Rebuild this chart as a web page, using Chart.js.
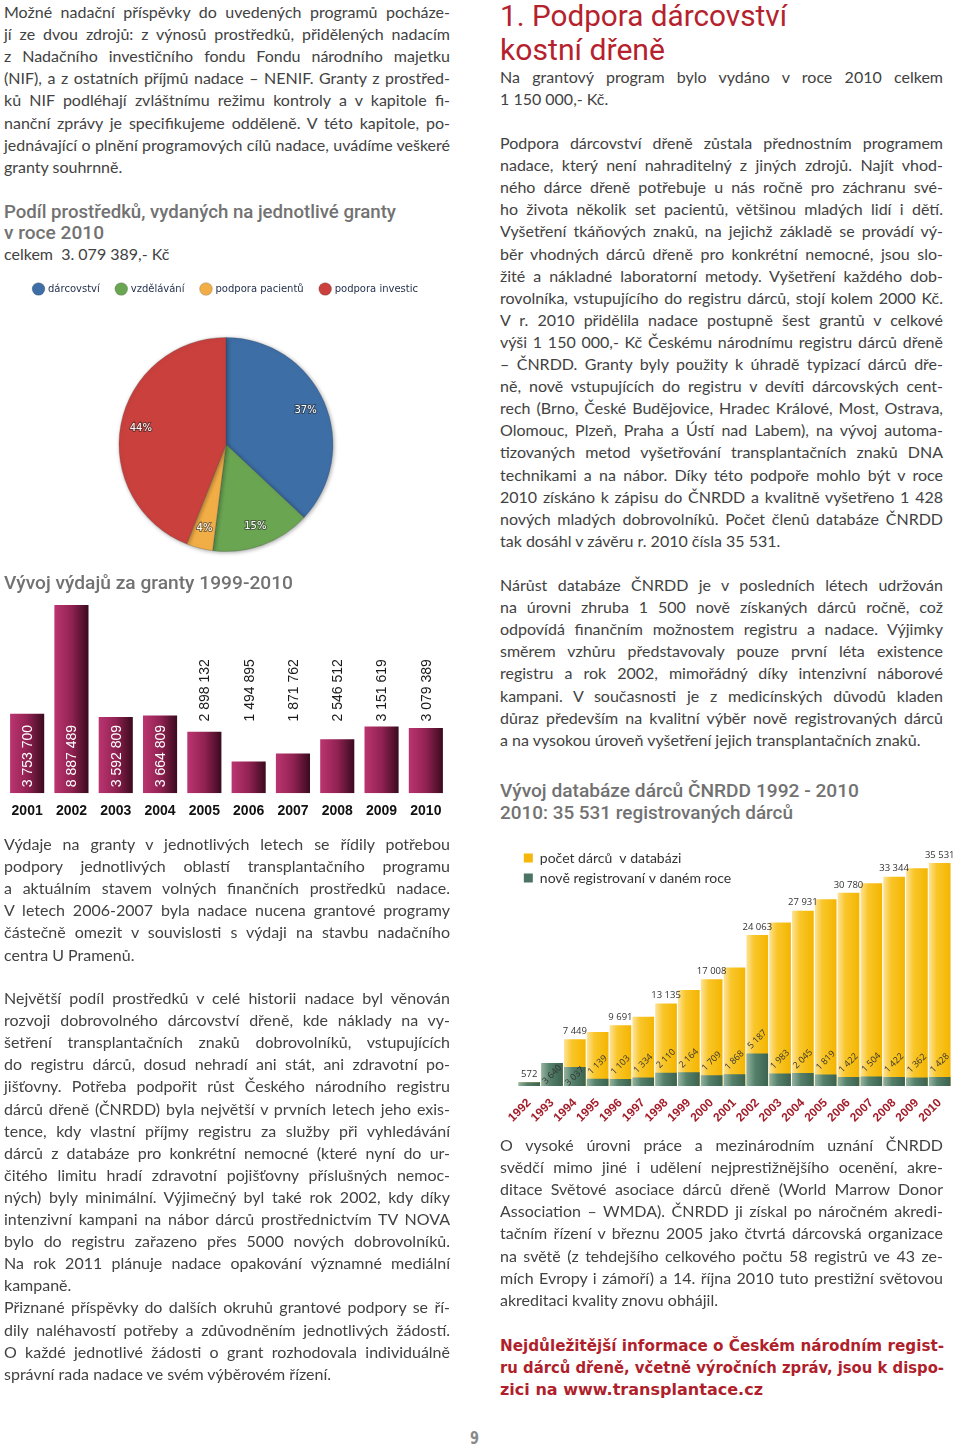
<!DOCTYPE html>
<html><head><meta charset="utf-8">
<script src="https://cdn.jsdelivr.net/npm/chart.js@4.4.1/dist/chart.umd.min.js"></script>
<style>
html,body{margin:0;padding:0;background:#fff;}
body{width:960px;height:1448px;position:relative;overflow:hidden;font-family:Lato,"Open Sans",sans-serif;color:#424242;}
.l{position:absolute;white-space:pre;font-size:16px;line-height:22px;height:22px;}
.h{position:absolute;white-space:pre;font-family:Roboto,"DejaVu Sans",sans-serif;font-weight:500;color:#6e6e6e;transform-origin:0 50%;}
.cv{position:absolute;display:block;}
</style></head><body>
<canvas id="pie" class="cv" width="452" height="318" style="left:0;top:267px;width:452px;height:318px"></canvas>
<canvas id="spend" class="cv" width="452" height="250" style="left:0;top:595px;width:452px;height:250px"></canvas>
<canvas id="db" class="cv" width="460" height="300" style="left:500px;top:845px;width:460px;height:300px"></canvas>
<script>
// ---------------- DATA ----------------
const pieLabels = ['dárcovství', 'vzdělávání', 'podpora pacientů', 'podpora investic'];
const pieShares = [37, 15, 4, 44];

const spendYears = ['2001','2002','2003','2004','2005','2006','2007','2008','2009','2010'];
const spendValues = [3753700, 8887489, 3592809, 3664809, 2898132, 1494895, 1871762, 2546512, 3151619, 3079389];

const dbYears = ['1992','1993','1994','1995','1996','1997','1998','1999','2000','2001','2002','2003','2004','2005','2006','2007','2008','2009','2010'];
const dbTotal = [572, 3640, 7449, 8588, 9691, 11025, 13135, 15299, 17008, 18876, 24063, 26046, 27931, 29750, 30780, 32284, 33344, 34706, 35531];
const dbNew = [572, 3640, 3037, 1139, 1103, 1334, 2110, 2164, 1709, 1868, 5187, 1983, 2045, 1819, 1422, 1504, 1422, 1362, 1428];
const dbTotalLabelYears = ['1992','1994','1996','1998','2000','2002','2004','2006','2008','2010'];
const dbSeriesNames = ['počet dárců  v databázi', 'nově registrovaní v daném roce'];

// ---------------- TEXT ----------------
const L = 4, LW = 446, R = 500, RW = 443, P = 22.1;
const paras = [
 {x:L, y:13, w:LW, lines:[
  'Možné nadační příspěvky do uvedených programů pocháze-',
  'jí ze dvou zdrojů: z výnosů prostředků, přidělených nadacím',
  'z Nadačního investičního fondu Fondu národního majetku',
  '(NIF), a z ostatních příjmů nadace – NENIF. Granty z prostřed-',
  'ků NIF podléhají zvláštnímu režimu kontroly a v kapitole fi-',
  'nanční zprávy je specifikujeme odděleně. V této kapitole, po-',
  'jednávající o plnění programových cílů nadace, uvádíme veškeré',
  'granty souhrnně.']},
 {x:L, y:255, w:LW, lines:['celkem  3. 079 389,- Kč']},
 {x:L, y:845, w:LW, lines:[
  'Výdaje na granty v jednotlivých letech se řídily potřebou',
  'podpory jednotlivých oblastí transplantačního programu',
  'a aktuálním stavem volných finančních prostředků nadace.',
  'V letech 2006-2007 byla nadace nucena grantové programy',
  'částečně omezit v souvislosti s výdaji na stavbu nadačního',
  'centra U Pramenů.']},
 {x:L, y:999, w:LW, lines:[
  'Největší podíl prostředků v celé historii nadace byl věnován',
  'rozvoji dobrovolného dárcovství dřeně, kde náklady na vy-',
  'šetření transplantačních znaků dobrovolníků, vstupujících',
  'do registru dárců, dosud nehradí ani stát, ani zdravotní po-',
  'jišťovny. Potřeba podpořit růst Českého národního registru',
  'dárců dřeně (ČNRDD) byla největší v prvních letech jeho exis-',
  'tence, kdy vlastní příjmy registru za služby při vyhledávání',
  'dárců z databáze pro konkrétní nemocné (které nyní do ur-',
  'čitého limitu hradí zdravotní pojišťovny příslušných nemoc-',
  'ných) byly minimální. Výjimečný byl také rok 2002, kdy díky',
  'intenzivní kampani na nábor dárců prostřednictvím TV NOVA',
  'bylo do registru zařazeno přes 5000 nových dobrovolníků.',
  'Na rok 2011 plánuje nadace opakování významné mediální',
  'kampaně.']},
 {x:L, y:999+14*P, w:LW, lines:[
  'Přiznané příspěvky do dalších okruhů grantové podpory se ří-',
  'dily naléhavostí potřeby a zdůvodněním jednotlivých žádostí.',
  'O každé jednotlivé žádosti o grant rozhodovala individuálně',
  'správní rada nadace ve svém výběrovém řízení.']},
 {x:R, y:78, w:RW, lines:[
  'Na grantový program bylo vydáno v roce 2010 celkem',
  '1 150 000,- Kč.']},
 {x:R, y:144, w:RW, lines:[
  'Podpora dárcovství dřeně zůstala přednostním programem',
  'nadace, který není nahraditelný z jiných zdrojů. Najít vhod-',
  'ného dárce dřeně potřebuje u nás ročně pro záchranu své-',
  'ho života několik set pacientů, většinou mladých lidí i dětí.',
  'Vyšetření tkáňových znaků, na jejichž základě se provádí vý-',
  'běr vhodných dárců dřeně pro konkrétní nemocné, jsou slo-',
  'žité a nákladné laboratorní metody. Vyšetření každého dob-',
  'rovolníka, vstupujícího do registru dárců, stojí kolem 2000 Kč.',
  'V r. 2010 přidělila nadace postupně šest grantů v celkové',
  'výši 1 150 000,- Kč Českému národnímu registru dárců dřeně',
  '– ČNRDD. Granty byly použity k úhradě typizací dárců dře-',
  'ně, nově vstupujících do registru v devíti dárcovských cent-',
  'rech (Brno, České Budějovice, Hradec Králové, Most, Ostrava,',
  'Olomouc, Plzeň, Praha a Ústí nad Labem), na vývoj automa-',
  'tizovaných metod vyšetřování transplantačních znaků DNA',
  'technikami a na nábor. Díky této podpoře mohlo být v roce',
  '2010 získáno k zápisu do ČNRDD a kvalitně vyšetřeno 1 428',
  'nových mladých dobrovolníků. Počet členů databáze ČNRDD',
  'tak dosáhl v závěru r. 2010 čísla 35 531.']},
 {x:R, y:586, w:RW, lines:[
  'Nárůst databáze ČNRDD je v posledních létech udržován',
  'na úrovni zhruba 1 500 nově získaných dárců ročně, což',
  'odpovídá finančním možnostem registru a nadace. Výjimky',
  'směrem vzhůru představovaly pouze první léta existence',
  'registru a rok 2002, mimořádný díky intenzivní náborové',
  'kampani. V současnosti je z medicínských důvodů kladen',
  'důraz především na kvalitní výběr nově registrovaných dárců',
  'a na vysokou úroveň vyšetření jejich transplantačních znaků.']},
 {x:R, y:1146, w:RW, lines:[
  'O vysoké úrovni práce a mezinárodním uznání ČNRDD',
  'svědčí mimo jiné i udělení nejprestižnějšího ocenění, akre-',
  'ditace Světové asociace dárců dřeně (World Marrow Donor',
  'Association – WMDA). ČNRDD ji získal po náročném akredi-',
  'tačním řízení v březnu 2005 jako čtvrtá dárcovská organizace',
  'na světě (z tehdejšího celkového počtu 58 registrů ve 43 ze-',
  'mích Evropy i zámoří) a 14. října 2010 tuto prestižní světovou',
  'akreditaci kvality znovu obhájil.']}
];
// headings: text, x, center y, font size, colour, target width, bold, weight
const heads = [
 ['Podíl prostředků, vydaných na jednotlivé granty', 4, 211, 18, '#727272', 392, false, 500],
 ['v roce 2010', 4, 232, 18, '#727272', 100, false, 500],
 ['Vývoj výdajů za granty 1999-2010', 4, 582, 19, '#727272', 289, false, 500],
 ['1. Podpora dárcovství', 500, 16, 29, '#b5222d', 287, false, 400],
 ['kostní dřeně', 500, 50, 29, '#b5222d', 165, false, 400],
 ['Vývoj databáze dárců ČNRDD 1992 - 2010', 500, 790, 18, '#727272', 359, false, 500],
 ['2010: 35 531 registrovaných dárců', 500, 812, 18, '#727272', 293, false, 500],
 ['Nejdůležitější informace o Českém národním regist-', 500, 1345, 16, '#b01f2c', 444, true, 700],
 ['ru dárců dřeně, včetně výročních zpráv, jsou k dispo-', 500, 1367, 16, '#b01f2c', 444, true, 700],
 ['zici na www.transplantace.cz', 500, 1389, 16, '#b01f2c', 263, true, 700],
 ['9', 470, 1438, 17, '#8a8a8a', 9, true, 700]
];

function justify(el, W){
  const w = el.getBoundingClientRect().width;
  const n = (el.textContent.match(/ /g) || []).length;
  if (n > 0) el.style.wordSpacing = ((W - w) / n) + 'px';
}
paras.forEach(p => {
  p.lines.forEach((t, i) => {
    const d = document.createElement('div');
    d.className = 'l';
    d.textContent = t;
    d.style.left = p.x + 'px';
    d.style.top = (p.y + i * P - 12) + 'px';
    document.body.appendChild(d);
    if (i < p.lines.length - 1) justify(d, p.w);
  });
});
heads.forEach(h => {
  const d = document.createElement('div');
  d.className = 'h';
  d.textContent = h[0];
  d.style.left = h[1] + 'px';
  d.style.fontSize = h[3] + 'px';
  d.style.lineHeight = Math.round(h[3] * 1.3) + 'px';
  d.style.top = (h[2] - Math.round(h[3] * 1.3) / 2) + 'px';
  d.style.color = h[4];
  d.style.fontWeight = String(h[7]);
  if (h[6]) d.style.fontFamily = '"DejaVu Sans", sans-serif';
  document.body.appendChild(d);
  const w = d.getBoundingClientRect().width;
  d.style.transform = 'scaleX(' + (h[5] / w) + ')';
});

// ---------------- CHARTS ----------------
const fmt = v => String(v).replace(/\B(?=(\d{3})+(?!\d))/g, ' ');
const pieColors = ['#3d6ea6', '#6aa552', '#f2ae46', '#c9403d'];

function barGradient(stops, pct){
  return ctx => {
    const c = ctx.chart;
    if (!c.chartArea || ctx.dataIndex === undefined) return stops[1][1];
    const xs = c.scales.x;
    const cx = xs.getPixelForValue(ctx.dataIndex);
    const w = xs.width / c.data.labels.length * pct;
    const g = c.ctx.createLinearGradient(cx - w / 2, 0, cx + w / 2, 0);
    stops.forEach(s => g.addColorStop(s[0], s[1]));
    return g;
  };
}

// Pie
const pieShadow = {
  id: 'pieShadow',
  beforeDatasetsDraw(chart){ const c = chart.ctx; c.save(); c.shadowColor = 'rgba(0,0,0,0.35)'; c.shadowBlur = 4; c.shadowOffsetX = 1; c.shadowOffsetY = 1; },
  afterDatasetsDraw(chart){ chart.ctx.restore(); }
};
const pieText = {
  id: 'pieText',
  afterDatasetsDraw(chart){
    const c = chart.ctx, meta = chart.getDatasetMeta(0);
    c.save();
    c.font = '10px "DejaVu Sans"';
    c.textAlign = 'center'; c.textBaseline = 'middle';
    meta.data.forEach((a, i) => {
      const mid = (a.startAngle + a.endAngle) / 2, r = a.outerRadius * 0.81;
      const x = a.x + Math.cos(mid) * r, y = a.y + Math.sin(mid) * r;
      const t = pieShares[i] + '%';
      c.lineWidth = 2; c.strokeStyle = 'rgba(40,40,40,0.55)'; c.strokeText(t, x, y);
      c.fillStyle = '#fff'; c.fillText(t, x, y);
    });
    c.restore();
  }
};
new Chart(document.getElementById('pie'), {
  type: 'pie',
  data: { labels: pieLabels, datasets: [{ data: pieShares, backgroundColor: pieColors, borderColor: 'rgba(70,70,70,0.25)', borderWidth: 1, radius: 107 }] },
  options: {
    responsive: false, animation: false, radius: 107,
    layout: { padding: 0 },
    plugins: {
      legend: { position: 'top', labels: { usePointStyle: true, pointStyle: 'circle', boxWidth: 9, boxHeight: 9, padding: 17, color: '#1e2c48', font: { family: 'DejaVu Sans', size: 10 } } },
      tooltip: { enabled: false }
    }
  },
  plugins: [pieShadow, pieText]
});

// Spending bars
const spendLabels = {
  id: 'spendLabels',
  afterDatasetsDraw(chart){
    const c = chart.ctx, meta = chart.getDatasetMeta(0);
    c.save();
    c.font = '14px "Liberation Sans", Arial';
    const inside = meta.data.map((b, i) => (b.base - b.y) > c.measureText(fmt(spendValues[i])).width + 12);
    let anchor = Infinity;
    meta.data.forEach((b, i) => { if (!inside[i]) anchor = Math.min(anchor, b.y - 5); });
    c.textAlign = 'left'; c.textBaseline = 'middle';
    meta.data.forEach((b, i) => {
      c.save();
      c.translate(b.x, inside[i] ? b.base - 6 : anchor);
      c.rotate(-Math.PI / 2);
      c.fillStyle = inside[i] ? '#ffffff' : '#1a1a1a';
      c.fillText(fmt(spendValues[i]), 0, 1);
      c.restore();
    });
    c.restore();
  }
};
new Chart(document.getElementById('spend'), {
  type: 'bar',
  data: { labels: spendYears, datasets: [{ data: spendValues, barPercentage: 0.77, categoryPercentage: 1, borderWidth: 0,
    backgroundColor: barGradient([[0, '#bb3570'], [0.5, '#922253'], [1, '#3a0a1e']], 0.77) }] },
  options: {
    responsive: false, animation: false,
    layout: { padding: { left: 5, right: 4, top: 5, bottom: 15 } },
    scales: {
      x: { grid: { display: false, drawTicks: false }, border: { display: false },
           ticks: { color: '#111', padding: 10, maxRotation: 0, autoSkip: false, font: { family: 'Liberation Sans', size: 14, weight: 'bold' } } },
      y: { display: false, min: 0, max: 9120000 }
    },
    plugins: { legend: { display: false }, tooltip: { enabled: false } }
  },
  plugins: [spendLabels]
});

// Donor database bars
const dbLabels = {
  id: 'dbLabels',
  afterDatasetsDraw(chart){
    const c = chart.ctx;
    const mt = chart.getDatasetMeta(0), mn = chart.getDatasetMeta(1);
    c.save();
    c.fillStyle = '#333';
    c.textAlign = 'center'; c.textBaseline = 'middle';
    mt.data.forEach((b, i) => {
      const showTotal = dbTotalLabelYears.includes(dbYears[i]);
      c.font = '9.5px "Open Sans"';
      if (showTotal) c.fillText(fmt(dbTotal[i]), b.x, b.y - 8);
      if (showTotal && dbTotal[i] === dbNew[i]) return;
      const g = mn.data[i];
      const inside = dbNew[i] / dbTotal[i] > 0.35;
      const y = inside ? (g.y + g.base) / 2 : g.y - 14;
      c.save();
      c.translate(g.x, y);
      c.rotate(-Math.PI / 4);
      c.font = '9px "Open Sans"';
      c.fillText(fmt(dbNew[i]), 0, 0);
      c.restore();
    });
    c.restore();
  }
};
const dbLegendColors = ['#f6b70c', '#4b7562'];
new Chart(document.getElementById('db'), {
  type: 'bar',
  data: { labels: dbYears, datasets: [
    { label: dbSeriesNames[0], data: dbTotal, order: 1, barPercentage: 0.95, categoryPercentage: 1, borderWidth: 0,
      backgroundColor: barGradient([[0, '#fde39a'], [0.35, '#f9c62a'], [1, '#f4b500']], 0.95) },
    { label: dbSeriesNames[1], data: dbNew, order: 0, barPercentage: 0.95, categoryPercentage: 1, borderWidth: 0,
      backgroundColor: barGradient([[0, '#93b4a2'], [0.4, '#55806a'], [1, '#3b6350']], 0.95) }
  ] },
  options: {
    responsive: false, animation: false,
    layout: { padding: { left: 15, right: 7, top: 18, bottom: 10 } },
    scales: {
      x: { stacked: true, grid: { display: false, drawTicks: false }, border: { display: false },
           ticks: { color: '#a31d2a', padding: 10, minRotation: 45, maxRotation: 45, autoSkip: false, font: { family: 'Liberation Sans', size: 12, weight: 'bold' } } },
      y: { stacked: false, display: false, min: 0, max: Math.max(...dbTotal) }
    },
    plugins: {
      legend: { position: 'chartArea', align: 'start',
        labels: { boxWidth: 9, boxHeight: 9, padding: 6, color: '#333', font: { family: 'Lato', size: 14 },
          sort: (a, b) => a.datasetIndex - b.datasetIndex,
          generateLabels(chart){
            const items = Chart.defaults.plugins.legend.labels.generateLabels(chart);
            items.forEach(it => { const col = dbLegendColors[it.datasetIndex]; it.fillStyle = col; it.strokeStyle = col; it.lineWidth = 0; });
            return items;
          } } },
      tooltip: { enabled: false }
    }
  },
  plugins: [dbLabels]
});
</script>
</body></html>
